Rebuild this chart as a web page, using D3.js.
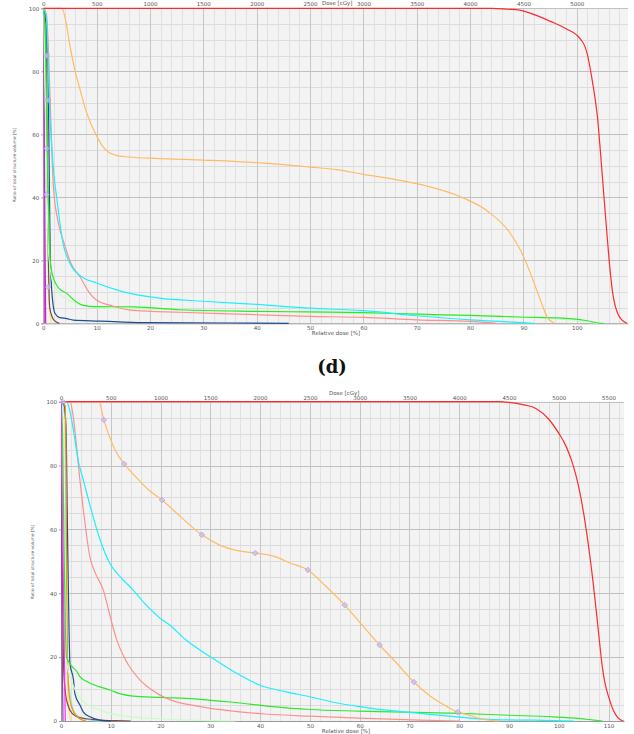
<!DOCTYPE html>
<html><head><meta charset="utf-8">
<script src="https://cdn.jsdelivr.net/npm/d3@7"></script>
<style>body{margin:0;background:#fff}svg{display:block}</style>
</head><body>
<svg id="chart" width="634" height="734"></svg>
<script>
// ---------------- DATA ----------------
const volTicks = [0, 20, 40, 60, 80, 100];
const topRelTicks = [0, 10, 20, 30, 40, 50, 60, 70, 80, 90, 100];
const topCgyTicks = [0, 500, 1000, 1500, 2000, 2500, 3000, 3500, 4000, 4500, 5000];
const botRelTicks = [0, 10, 20, 30, 40, 50, 60, 70, 80, 90, 100, 110];
const botCgyTicks = [0, 500, 1000, 1500, 2000, 2500, 3000, 3500, 4000, 4500, 5000, 5500];
const panelLabel = "(d)";
const xTitle = "Relative dose [%]";
const xTopTitle = "Dose [cGy]";
const yTitle = "Ratio of total structure volume [%]";

// top panel curves: [relative dose %, volume %]
const topRed = [[0,100],[84,100],[87,99.7],[89.3,99.4],[92,98],[95.4,95.6],[98,93.5],[100,91.5],[100.8,90],[101.5,88],[102,85.3],[102.5,81],[103,76],[103.5,70.5],[103.9,65],[104.5,53],[105.1,40],[105.7,27.5],[106.2,17.5],[106.7,10],[107.2,5.5],[107.8,2.6],[108.5,1],[109.4,0]];
const topOrange = [[0,100],[3.5,100],[4.2,96],[5,88],[5.9,80.5],[7,73.5],[8,67.5],[9,63],[10,59.5],[11,56.5],[12,54.6],[13.5,53.4],[16,52.8],[21.8,52.3],[30,51.8],[40,51],[50,49.6],[55,48.8],[60,47.3],[66.8,45.4],[72,43.5],[78,40.3],[83.6,35.2],[87.4,28.9],[89.5,23],[91.1,16.8],[92.5,10.5],[93.6,5.5],[94.5,1.8],[95.8,0]];
const topCyan = [[0,100],[0.5,98],[0.8,90],[1.1,72],[1.5,58],[2,47],[2.5,40],[3.7,25.4],[5,19],[7,15],[10,12.8],[15,10],[21.8,8],[30,7],[40,6],[50,4.8],[60,4],[70,2.4],[80,1.1],[88,0.4],[92,0]];
const topPink = [[0,100],[0.6,98],[1,85],[1.3,70],[1.6,55],[1.9,43.3],[2.8,32],[3.9,25.4],[5.2,19],[6.9,14.7],[8.5,10],[10,7.3],[13,5.5],[17,4.1],[25.6,3.5],[35,3],[50,2.2],[60,1.9],[70,1.1],[80,0.6],[85,0]];
const topGreen = [[0,100],[0.4,90],[0.8,50],[1.1,30],[1.3,20],[1.7,15.5],[2.2,13],[3,11],[4.4,9.5],[6,7],[7.5,5.7],[10,5.3],[17,5.2],[25.6,4.3],[40,3.8],[50,3.6],[60,3.4],[70.5,2.9],[80,2.5],[89,2],[98.6,1.5],[102,0.8],[104,0.1],[105,0]];
const topPaleGreen = [[0,100],[0.5,60],[1,22],[2,12],[5,7],[10,5],[20,4.5],[40,3.9],[50,3.4],[60,3.1],[80,2.4],[95,1.6],[104,0]];
const topNavy = [[0,100],[0.5,97],[0.9,80],[1.1,50],[1.3,22],[1.6,10],[2.2,3.1],[3.1,1.8],[4.4,1.5],[5.6,1],[10.6,0.7],[15,0.4],[20,0.2],[35,0.1],[46,0]];
const topBrown = [[0,100],[0.5,95],[0.8,40],[1.2,5],[2,1],[3,0]];
const topYellow = [[0,100],[0.4,100],[0.7,50],[1,10],[1.5,0]];
const topPurple = [[0,100],[0.15,70],[0.3,30],[0.45,0]];
const topMagenta = [[0,100],[0.1,50],[0.25,0]];
const topMarkerDose = [0.6, 0.9, 0.6, 0.6, 0.9];
const topMarkerVol = [85, 70.8, 55.5, 40.9, 11.5];

// bottom panel curves
const botRed = [[0,100],[88,100],[90,99.8],[93,99],[95.4,97.9],[98,94.5],[100.2,89.6],[101,87.5],[102,84],[102.9,80],[103.9,74],[105,65],[106,54.5],[107,42],[107.7,32],[108.2,24.5],[108.7,17.5],[109.2,12.5],[109.7,9.2],[110.2,6.6],[111,3.2],[111.9,1],[113,0]];
const botOrange = [[0,100],[7.6,100],[8.6,94.3],[10,88],[11,84.5],[12.7,80.5],[15,76.5],[17.5,72.5],[20.3,69.2],[24,64],[28.3,58.3],[32,55],[35,53.5],[39,52.6],[43,51.5],[46,49.5],[49.6,47.3],[53,42.5],[57,36.3],[60.5,30],[64,23.8],[67.5,18],[70.9,12.2],[74,8],[77,5],[79.7,2.8],[82,1.8],[84,0.85],[86,0.3],[88,0]];
const botCyan = [[0,100],[1.2,99.8],[1.8,97],[2.5,91],[3.5,81.2],[4.5,75.4],[6,66.5],[7.8,57],[9.8,49.4],[12,45],[14.5,41],[17,36.5],[19.9,32.2],[21.9,30],[25,25.5],[30,20.1],[35,15.2],[40,11.2],[45,9.2],[50,7.6],[55,5.8],[60,4.5],[66,3.3],[72,2.4],[80,1.2],[87,0.4],[95,0.25],[103,0]];
const botPink = [[0,100],[1.8,100],[2.3,97],[3,88],[3.8,75.4],[4.5,66],[5.8,51.4],[7,46],[8.5,41],[10,32],[11.2,25.4],[13,19],[15.9,12.8],[18,10],[19.9,8.1],[22,6.6],[28,4.5],[35,3],[41,2.2],[50,1.5],[60,0.9],[72,0.3],[80,0]];
const botGreen = [[0,100],[0.3,90],[0.6,55],[0.9,28],[1.1,20.1],[2,17.5],[3.2,15.5],[3.8,13.9],[5,12.5],[7.8,10.7],[9.8,9.7],[12,8.5],[14.5,7.8],[19.9,7.4],[28,6.8],[35,5.8],[42,4.6],[50,3.6],[60,3.1],[80,2.4],[90,1.8],[98.8,1.3],[104,0.8],[107,0.3],[108.8,0]];
const botPaleGreen = [[0,100],[0.5,80],[0.9,40],[1.2,18],[2,13],[3.2,8.6],[5,5.5],[7.8,3.5],[9.8,2.4],[14,1.3],[19.9,0.7],[28,0.2],[35,0]];
const botNavy = [[0,100],[0.6,99],[1,92],[1.3,60],[1.6,30],[1.8,18],[2.5,13],[2.8,8.5],[3.8,5],[4.5,2.8],[5.8,1.3],[7.8,0.3],[10,0]];
const botBrown = [[0,100],[0.2,60],[0.5,18],[0.9,8.6],[1.4,5],[1.8,3.4],[3,1.5],[5,0.7],[7.8,0.3],[11,0.1],[14,0]];
const botDarkOrange = [[0,100],[0.8,99],[1,85],[1.1,50],[1.3,20],[1.6,9],[1.8,6.6],[2.5,3],[3.5,1],[4.5,0.2],[5,0]];
const botLightCyan = [[0,100],[0.8,95],[1.1,40],[1.3,16],[2,7],[2.5,3.4],[4,1],[5.8,0.3],[8,0]];
const botYellow = [[0,100],[0.7,100],[1,60],[1.2,20],[1.5,5],[2,0]];
const botMagenta = [[0,100],[0.2,75],[0.5,40],[0.86,0]];
const botPurple = [[0,100],[0.1,60],[0.25,20],[0.4,0]];
const botMarkerDose = [0.4, 8.6, 12.7, 20.3, 28.3, 39, 49.6, 57, 64, 70.9, 79.7];
const botMarkerVol = [100, 94.3, 80.5, 69.2, 58.3, 52.6, 47.3, 36.3, 23.8, 12.2, 2.8];

// ---------------- STYLE ----------------
const colors = {
  red: "#ff2b2b", orange: "#ffbb66", cyan: "#1cf0ff", pink: "#ff8f8f", green: "#2ee82e",
  paleGreen: "#c6ffc6", navy: "#1d4f8f", brown: "#7a4a4a", yellow: "#ffe070",
  purple: "#9a3fb0", magenta: "#ff30ff", darkOrange: "#ff8c00", lightCyan: "#7ff8ff"
};

const topSeries = [
  [topMagenta, "magenta"], [topPurple, "purple"], [topYellow, "yellow"], [topBrown, "brown"],
  [topNavy, "navy"], [topPaleGreen, "paleGreen"], [topGreen, "green"], [topPink, "pink"],
  [topCyan, "cyan"], [topOrange, "orange"], [topRed, "red"]
];
const botSeries = [
  [botYellow, "yellow"], [botLightCyan, "lightCyan"], [botBrown, "brown"], [botNavy, "navy"],
  [botDarkOrange, "darkOrange"], [botPaleGreen, "paleGreen"], [botGreen, "green"], [botPink, "pink"],
  [botCyan, "cyan"], [botOrange, "orange"], [botRed, "red"], [botPurple, "purple"], [botMagenta, "magenta"]
];

const svg = d3.select("#chart");
const FONT = "'DejaVu Sans', Verdana, sans-serif";

function drawDVH(id, box, maxDose, relTicks, cgyTicks, series, mDose, mVol, opts) {
  const g = svg.append("g");
  const x = d3.scaleLinear().domain([0, maxDose]).range([box.l, box.r]);
  const xc = d3.scaleLinear().domain([0, maxDose * 50]).range([box.l, box.r]);
  const y = d3.scaleLinear().domain([0, 100]).range([box.b, box.t]);

  g.append("clipPath").attr("id", "clip" + id).append("rect")
    .attr("x", box.l).attr("y", box.t - 2).attr("width", box.r - box.l + 2).attr("height", box.b - box.t + 3);

  g.append("rect").attr("x", box.l).attr("y", box.t).attr("width", box.r - box.l).attr("height", box.b - box.t)
    .attr("fill", "#f3f3f3");

  // minor grid
  const minorX = d3.range(0, maxDose, 2).filter(d => d % 10 !== 0);
  g.selectAll(".mvx").data(minorX).join("line")
    .attr("x1", d => Math.round(x(d)) + 0.5).attr("x2", d => Math.round(x(d)) + 0.5)
    .attr("y1", box.t).attr("y2", box.b).attr("stroke", "#e1e1e1").attr("stroke-width", 1);
  const minorY = d3.range(5, 100, 5).filter(d => d % 20 !== 0);
  g.selectAll(".mhy").data(minorY).join("line")
    .attr("y1", d => Math.round(y(d)) + 0.5).attr("y2", d => Math.round(y(d)) + 0.5)
    .attr("x1", box.l).attr("x2", box.r).attr("stroke", "#dcdcdc").attr("stroke-width", 1);
  // major grid
  g.selectAll(".Mvx").data(relTicks.filter(d => d > 0)).join("line")
    .attr("x1", d => Math.round(x(d)) + 0.5).attr("x2", d => Math.round(x(d)) + 0.5)
    .attr("y1", box.t).attr("y2", box.b).attr("stroke", "#c6c6c6").attr("stroke-width", 1);
  g.selectAll(".Mhy").data(volTicks.filter(d => d > 0)).join("line")
    .attr("y1", d => Math.round(y(d)) + 0.5).attr("y2", d => Math.round(y(d)) + 0.5)
    .attr("x1", box.l).attr("x2", box.r).attr("stroke", "#c0c0c0").attr("stroke-width", 1);

  // axes
  const styleAxis = sel => {
    sel.selectAll("text").attr("font-size", "5.5px").attr("fill", "#555").attr("font-family", FONT);
    sel.select(".domain").attr("stroke", "#999");
    sel.selectAll(".tick line").attr("stroke", "#999");
  };
  g.append("g").attr("transform", `translate(${box.l},0)`)
    .call(d3.axisLeft(y).tickValues(volTicks).tickSize(2).tickPadding(2).tickFormat(d3.format("d")))
    .call(styleAxis);
  g.append("g").attr("transform", `translate(0,${box.b})`)
    .call(d3.axisBottom(x).tickValues(relTicks).tickSize(0).tickPadding(opts.bottomPad).tickFormat(d3.format("d")))
    .call(styleAxis);
  g.append("g").attr("transform", `translate(0,${box.t})`)
    .call(d3.axisTop(xc).tickValues(cgyTicks).tickSize(0).tickPadding(opts.topPad).tickFormat(d3.format("d")))
    .call(styleAxis).call(s => s.select(".domain").remove());

  // curves
  const line = d3.line().x(d => x(d[0])).y(d => y(d[1])).curve(d3.curveMonotoneX);
  const cg = g.append("g").attr("clip-path", `url(#clip${id})`);
  series.forEach(([data, c]) => {
    cg.append("path").attr("d", line(data)).attr("fill", "none")
      .attr("stroke", colors[c]).attr("stroke-width", 1.2).attr("stroke-linejoin", "round");
  });

  // markers
  const mk = d3.range(mDose.length).map(i => [mDose[i], mVol[i]]);
  cg.selectAll(".mk").data(mk).join("rect")
    .attr("x", -2).attr("y", -2).attr("width", 4).attr("height", 4)
    .attr("transform", d => `translate(${x(d[0])},${y(d[1])}) rotate(45)`)
    .attr("fill", "#cbbcf2").attr("fill-opacity", 0.75).attr("stroke", "#a898e6").attr("stroke-width", 0.6);

  // titles
  g.append("text").attr("x", opts.xtX).attr("y", opts.xtY).attr("text-anchor", "middle")
    .attr("font-size", "5.5px").attr("fill", "#555").attr("font-family", FONT).text(xTitle);
  g.append("text").attr("x", opts.ctX).attr("y", opts.ctY)
    .attr("font-size", "5.5px").attr("fill", "#555").attr("font-family", FONT).text(xTopTitle);
  g.append("text").attr("transform", `translate(${opts.ytX},${opts.ytY}) rotate(-90)`).attr("text-anchor", "middle")
    .attr("font-size", "4.3px").attr("fill", "#555").attr("font-family", FONT).text(yTitle);
}

drawDVH("top", {l: 43.3, r: 628, t: 8.3, b: 323.3}, 109.6, topRelTicks, topCgyTicks, topSeries,
  topMarkerDose, topMarkerVol,
  {bottomPad: 3, topPad: 2.5, xtX: 336, xtY: 335, ctX: 322, ctY: 4.6, ytX: 16, ytY: 165});

drawDVH("bot", {l: 61, r: 624, t: 401.7, b: 721}, 113.1, botRelTicks, botCgyTicks, botSeries,
  botMarkerDose, botMarkerVol,
  {bottomPad: 3.5, topPad: 1.5, xtX: 346, xtY: 733, ctX: 329, ctY: 394.5, ytX: 34, ytY: 562});

svg.append("text").attr("x", 332).attr("y", 373).attr("text-anchor", "middle")
  .attr("font-family", "'DejaVu Serif', 'Liberation Serif', serif").attr("font-weight", "bold")
  .attr("font-size", "18px").attr("fill", "#111").text(panelLabel);
</script>
</body></html>
